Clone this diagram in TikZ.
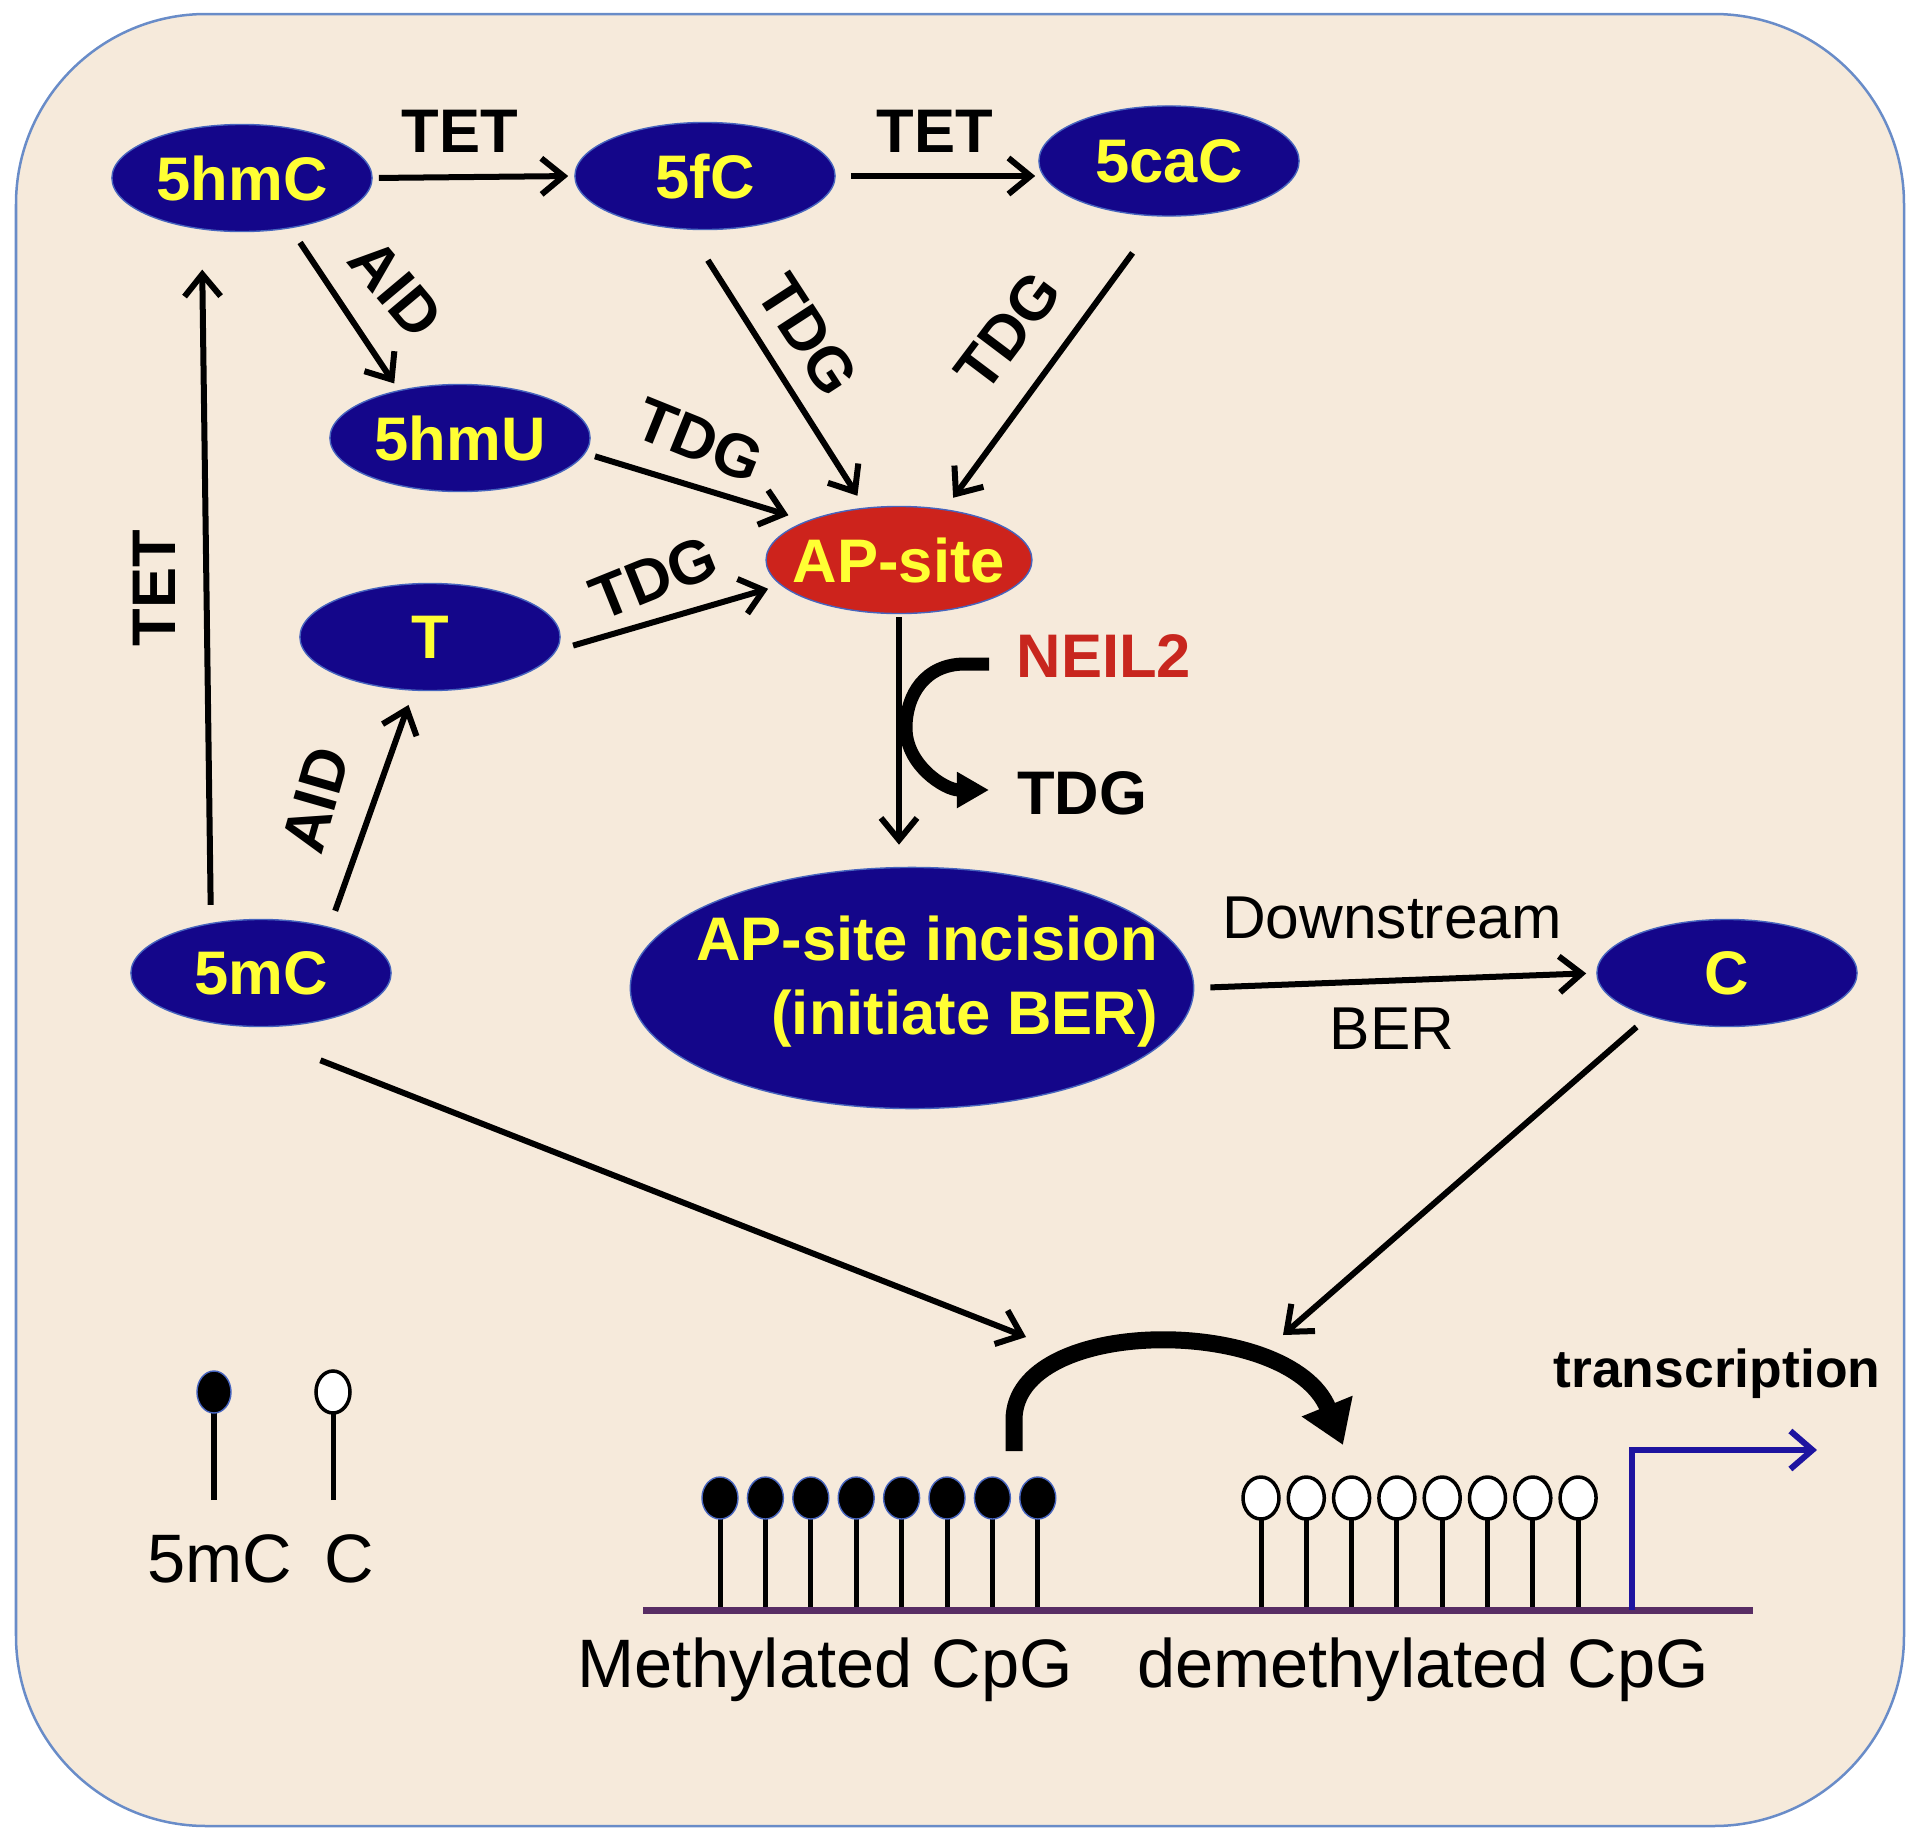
\documentclass[tikz,border=0pt]{standalone}
\usepackage{fontspec}
\setmainfont{Liberation Sans}
\usepackage{xcolor}
\usetikzlibrary{arrows.meta, shapes.geometric}

\definecolor{nodeblue}{RGB}{20,6,138}
\definecolor{nodeline}{RGB}{70,100,190}
\definecolor{textyellow}{RGB}{255,255,51}
\definecolor{apred}{RGB}{205,35,28}
\definecolor{neilred}{RGB}{200,38,30}
\definecolor{paper}{RGB}{246,234,219}
\definecolor{frame}{RGB}{105,140,200}
\definecolor{dna}{RGB}{88,45,100}
\definecolor{promoter}{RGB}{30,20,160}

\begin{document}
\begin{tikzpicture}[x=0.01cm, y=-0.01cm,
        basenode/.style={ellipse, draw=nodeline, line width=0.4pt, fill=nodeblue, text=textyellow,
            font=\fontsize{17.5}{20}\selectfont\bfseries, minimum width=2.6cm, minimum height=1.07cm, inner sep=0pt},
        arr/.style={line width=0.06cm, -{Straight Barb[length=0.22cm, width=0.36cm]}},
        enz/.style={font=\fontsize{17.5}{20}\selectfont\bfseries, inner sep=0pt},
        txt/.style={font=\fontsize{17.2}{20}\selectfont, inner sep=0pt},
        cpg/.style={font=\fontsize{19.5}{22}\selectfont, inner sep=0pt}]
        \useasboundingbox (0,0) rectangle (1920,1842);

        % draw the background
        \draw [fill=paper, draw=frame, line width=0.025cm, rounded corners=1.9cm] (16,14) rectangle (1904,1826);

        % the bases
        \node[basenode] (hmC) at (242,178) {5hmC};
        \node[basenode] (fC) at (705,176) {5fC};
        \node[basenode, minimum height=1.1cm] (caC) at (1169,161) {5caC};
        \node[basenode] (hmU) at (460,438) {5hmU};
        \node[basenode, fill=apred, inner xsep=-0.12cm] (AP) at (899,560) {AP-site};
        \node[basenode] (T) at (430,637) {T};
        \node[basenode] (mC) at (261,973) {5mC};
        \node[basenode, minimum width=5.63cm, minimum height=2.41cm] (inc) at (912,988) {};
        \node[enz, text=textyellow, align=right, font=\fontsize{17.5}{21}\selectfont\bfseries] (incT) at (927,982) {AP-site incision\\(initiate BER)};
        \node[basenode] (C) at (1727,973) {C};

        % arrows between the bases
        \draw[arr, shorten <=0.06cm, shorten >=0.06cm] (hmC.east) -- (fC.west);
        \draw[arr, shorten <=0.15cm, shorten >=0.03cm] (fC.east) -- (fC.east -| caC.west);
        \draw[arr, shorten <=0.17cm, shorten >=0.08cm] (hmC.-46) -- (hmU.142);
        \draw[arr, shorten <=0.36cm, shorten >=0.14cm] (fC.-107) -- (AP.123);
        \draw[arr, shorten <=0.45cm, shorten >=0.14cm] (caC.-100) -- (AP.48);
        \draw[arr, shorten <=0.1cm, shorten >=0.19cm] (hmU.-7) -- (AP.157);
        \draw[arr, shorten <=0.17cm, shorten >=0.13cm] (T.-6) -- (AP.192);
        \draw[arr, shorten <=0.18cm, shorten >=0.4cm] (mC.135) -- (hmC.-128);
        \draw[arr, shorten <=0.17cm, shorten >=0.15cm] (mC.34) -- (T.-107);
        \draw[arr, shorten <=0.03cm, shorten >=0.22cm] (AP.south) -- (AP.south |- inc.north);
        \draw[arr, shorten <=0.16cm, shorten >=0.1cm] (inc.east) -- (C.west);

        \coordinate (mEnd) at (1026,1337);
        \coordinate (cEnd) at (1283,1335);
        \draw[arr, shorten <=0.94cm] (mC.-118) -- (mEnd);
        \draw[arr, shorten <=0.16cm] (C.-151) -- (cEnd);

        % enzyme labels
        \node[enz] (tet1) at (460,131) {TET};
        \node[enz] (tet2) at (935,131) {TET};
        \node[enz, rotate=90] (tet3) at (154,588) {TET};
        \node[enz, rotate=-50] (aid1) at (396,288) {AID};
        \node[enz, rotate=74] (aid2) at (316,800) {AID};
        \node[enz, rotate=-57] (tdg1) at (808,335) {TDG};
        \node[enz, rotate=53] (tdg2) at (1008,331) {TDG};
        \node[enz, rotate=-22] (tdg3) at (700,440) {TDG};
        \node[enz, rotate=22] (tdg4) at (654,578) {TDG};
        \node[enz, text=neilred, anchor=base] (neil) at (1104,677) {NEIL2};
        \node[enz, anchor=base] (tdg5) at (1082,814) {TDG};
        \node[txt, anchor=base] (down) at (1392,938) {Downstream};
        \node[txt, anchor=base] (ber) at (1392,1049) {BER};

        % NEIL2 / TDG step
        \draw[line width=0.13cm, -{Triangle[length=0.32cm, width=0.34cm]}] (989,664) -- (965,664)
            .. controls (925,664) and (906,695) .. (906,728)
            .. controls (906,765) and (945,790) .. (989,790);

        % legend
        \draw[line width=0.05cm] (214,1500) -- (214,1392);
        \draw[line width=0.05cm] (333,1500) -- (333,1392);
        \fill[black, draw=nodeline, line width=0.4pt] (214,1392) ellipse[x radius=17, y radius=21];
        \draw[fill=white, line width=0.035cm] (333,1392) ellipse[x radius=17, y radius=21];
        \node[cpg, anchor=base] (leg5mC) at (220,1582) {5mC};
        \node[cpg, anchor=base] (legC) at (349,1582) {C};

        % methylated and demethylated CpG
        \foreach \i in {0,...,7}{
            \draw[line width=0.05cm] (720+45.4*\i,1610) -- (720+45.4*\i,1498);
            \fill[black, draw=nodeline, line width=0.4pt] (720+45.4*\i,1498) ellipse[x radius=18, y radius=21];
            \draw[line width=0.05cm] (1261+45.3*\i,1610) -- (1261+45.3*\i,1498);
            \draw[fill=white, line width=0.035cm] (1261+45.3*\i,1498) ellipse[x radius=18, y radius=21];
        }
        \draw[dna, line width=0.07cm] (643,1610) -- (1753,1610);
        \node[cpg, anchor=base] (meth) at (825,1687) {Methylated CpG};
        \node[cpg, anchor=base] (demeth) at (1423,1687) {demethylated CpG};

        % the big curved arrow
        \draw[line width=0.17cm, -{Triangle[length=0.42cm, width=0.52cm]}] (1014,1451) -- (1014,1420)
            .. controls (1014,1315) and (1290,1315) .. (1343,1445);

        % transcription start
        \coordinate (tss) at (1632,1610);
        \coordinate (tssEnd) at (1817,1450);
        \draw[promoter, line width=0.06cm, -{Straight Barb[length=0.22cm, width=0.38cm]}] (tss) |- (tssEnd);
        \node[enz, font=\fontsize{15.2}{18}\selectfont\bfseries, anchor=base] (trans) at (1717,1387) {transcription};
    \end{tikzpicture}
\end{document}
